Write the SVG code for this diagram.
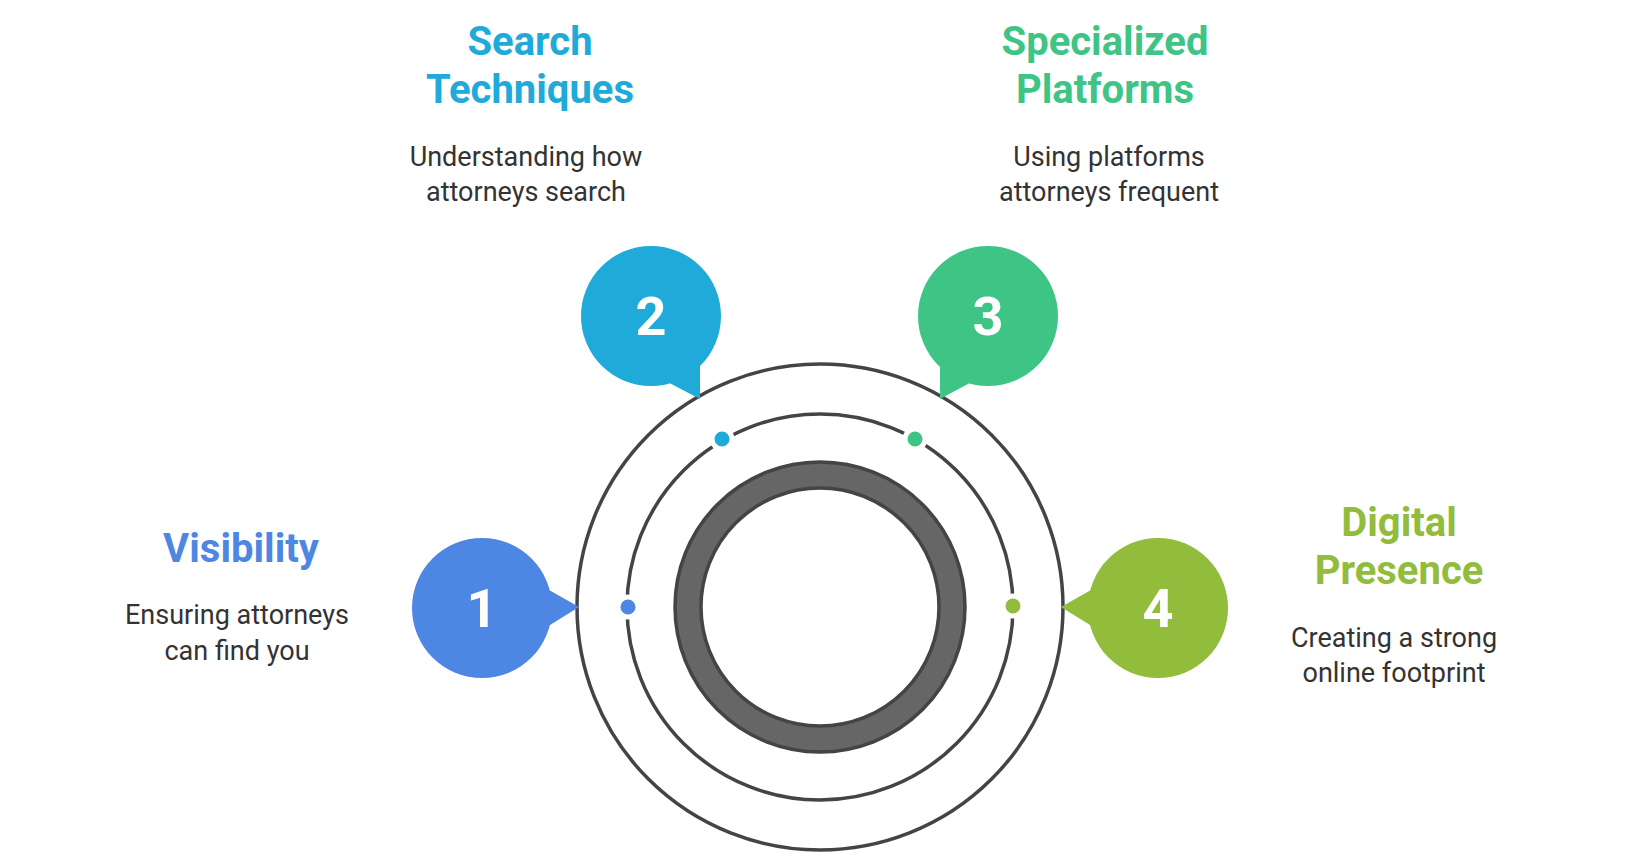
<svg xmlns="http://www.w3.org/2000/svg" width="1632" height="861" viewBox="0 0 1632 861">
<style>
.t{font-family:Roboto,"Liberation Sans",sans-serif;font-weight:bold;font-size:40px;text-anchor:middle}
.d{font-family:Roboto,"Liberation Sans",sans-serif;font-size:27px;fill:#333;text-anchor:middle}
.n{font-family:Roboto,"Liberation Sans",sans-serif;font-weight:bold;font-size:54px;fill:#fff;text-anchor:middle}
.ring{fill:none;stroke:#444;stroke-width:3.5}
</style>
<rect width="1632" height="861" fill="#fff"/>
<g id="rings">
<circle class="ring" cx="820" cy="607" r="243"/>
<circle class="ring" cx="820" cy="607" r="193"/>
<circle cx="820" cy="607" r="145" fill="#666" stroke="#444" stroke-width="3.5"/>
<circle cx="820" cy="607" r="119" fill="#fff" stroke="#444" stroke-width="3.5"/>
</g>
<g id="connectors">
<circle cx="628" cy="607" r="10" fill="#4E86E4" stroke="#fff" stroke-width="5"/>
<circle cx="722" cy="439" r="10" fill="#20AAD9" stroke="#fff" stroke-width="5"/>
<circle cx="915" cy="439" r="10" fill="#3EC485" stroke="#fff" stroke-width="5"/>
<circle cx="1013" cy="606" r="10" fill="#92BC3C" stroke="#fff" stroke-width="5"/>
</g>
<g id="n1">
<circle cx="482" cy="608" r="70" fill="#4E86E4"/>
<polygon points="542,586 579,607 542,630" fill="#4E86E4"/>
<text class="n" x="482" y="627">1</text>
<text class="t" x="241" y="562" fill="#4E86E4">Visibility</text>
<text class="d" x="237" y="624">Ensuring attorneys</text>
<text class="d" x="237" y="660">can find you</text>
</g>
<g id="n2">
<circle cx="651" cy="316" r="70" fill="#20AAD9"/>
<polygon points="660,378 700,399 700,354" fill="#20AAD9"/>
<text class="n" x="651" y="335">2</text>
<text class="t" x="530" y="55" fill="#20AAD9">Search</text>
<text class="t" x="530" y="103" fill="#20AAD9">Techniques</text>
<text class="d" x="526" y="166">Understanding how</text>
<text class="d" x="526" y="201">attorneys search</text>
</g>
<g id="n3">
<circle cx="988" cy="316" r="70" fill="#3EC485"/>
<polygon points="979,378 940,399 940,354" fill="#3EC485"/>
<text class="n" x="988" y="335">3</text>
<text class="t" x="1105" y="55" fill="#3EC485">Specialized</text>
<text class="t" x="1105" y="103" fill="#3EC485">Platforms</text>
<text class="d" x="1109" y="166">Using platforms</text>
<text class="d" x="1109" y="201">attorneys frequent</text>
</g>
<g id="n4">
<circle cx="1158" cy="608" r="70" fill="#92BC3C"/>
<polygon points="1098,586 1061,607 1098,630" fill="#92BC3C"/>
<text class="n" x="1158" y="627">4</text>
<text class="t" x="1399" y="536" fill="#92BC3C">Digital</text>
<text class="t" x="1399" y="584" fill="#92BC3C">Presence</text>
<text class="d" x="1394" y="647">Creating a strong</text>
<text class="d" x="1394" y="682">online footprint</text>
</g>
</svg>
